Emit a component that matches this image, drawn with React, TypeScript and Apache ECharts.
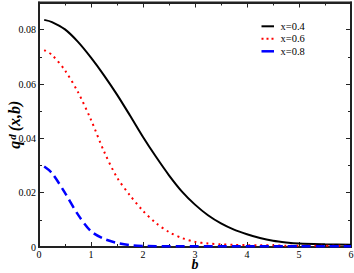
import React, { useEffect, useRef } from "react";
import * as echarts from "echarts";

const bValues = [0.1, 0.25, 0.5, 0.75, 1.0, 1.25, 1.5, 1.75, 2.0, 2.25, 2.5, 2.75, 3.0, 3.25, 3.5, 3.75, 4.0, 4.25, 4.5, 4.75, 5.0, 5.5, 6.0];
const seriesNames = ["x=0.4", "x=0.6", "x=0.8"];
const q04 = [0.0836, 0.0828, 0.0801, 0.0755, 0.0697, 0.0632, 0.0561, 0.0484, 0.0405, 0.0332, 0.0264, 0.0204, 0.0156, 0.0117, 0.0087, 0.0064, 0.0047, 0.0033, 0.0023, 0.0017, 0.0013, 0.001, 0.0008];
const q06 = [0.0725, 0.0707, 0.065, 0.057, 0.0468, 0.0352, 0.0256, 0.019, 0.0133, 0.0088, 0.0055, 0.0033, 0.0019, 0.0013, 0.001, 0.0008, 0.0007, 0.0006, 0.0006, 0.0005, 0.0005, 0.0005, 0.0004];
const q08 = [0.0296, 0.0272, 0.0199, 0.0119, 0.0058, 0.003, 0.0015, 0.0007, 0.0004, 0.0003, 0.0003, 0.0003, 0.0003, 0.0003, 0.0003, 0.0003, 0.0003, 0.0003, 0.0003, 0.0003, 0.0003, 0.0003, 0.0003];
const xTicks = { min: 0, max: 6, interval: 1 };
const yTicks = { min: 0, max: 0.09, interval: 0.02 };

const FONT = "Liberation Serif";
const colors = ["#000000", "#ff0000", "#0000ff"];
const widths = [2, 2, 2.5];
const dashes: (number[] | null)[] = [null, [2, 4], [9, 5]];

export default function App() {
  const ref = useRef<HTMLDivElement>(null);
  useEffect(() => {
    if (!ref.current) return;
    const chart = echarts.init(ref.current, null, { renderer: "svg" });
    const axisLine = { show: true, onZero: false, lineStyle: { color: "#222", width: 2 } };
    const axisTick = { show: true, inside: true, length: 5, lineStyle: { color: "#222", width: 1 } };
    const minorTick = { show: true, splitNumber: 2, length: 3, lineStyle: { color: "#222", width: 1 } };
    const mk = (vals: number[]) => bValues.map((b, i) => [b, vals[i]]);
    const allVals = [q04, q06, q08];

    const legendGraphics: any[] = [];
    seriesNames.forEach((name, i) => {
      const cy = 26.3 + i * 12.5;
      legendGraphics.push({
        type: "line",
        shape: { x1: 261.5, y1: cy, x2: 274, y2: cy },
        style: { stroke: colors[i], lineWidth: widths[i], lineDash: i === 1 ? [2, 3] : null },
        silent: true,
      });
      legendGraphics.push({
        type: "text",
        x: 280.5,
        y: cy,
        style: { text: name, fontFamily: FONT, fontSize: 10.5, fill: "#000", verticalAlign: "middle" },
        silent: true,
      });
    });

    chart.setOption({
      animation: false,
      backgroundColor: "#fff",
      grid: {
        left: 39, right: 3, top: 2.5, bottom: 26,
        containLabel: false,
        outerBoundsMode: "none",
        show: true, borderColor: "#222", borderWidth: 2, backgroundColor: "transparent",
      },
      graphic: legendGraphics,
      xAxis: [
        {
          type: "value",
          ...xTicks,
          name: "b",
          nameLocation: "middle",
          nameGap: 10,
          nameMoveOverlap: false,
          nameTextStyle: { fontFamily: FONT, fontSize: 14, fontWeight: "bold", fontStyle: "italic", color: "#000" },
          axisLine,
          axisTick,
          minorTick,
          splitLine: { show: false },
          axisLabel: { fontFamily: FONT, fontSize: 10, color: "#000", margin: 2 },
        },
        {
          type: "value",
          position: "top",
          ...xTicks,
          axisLine,
          axisTick,
          minorTick,
          splitLine: { show: false },
          axisLabel: { show: false },
        },
      ],
      yAxis: [
        {
          type: "value",
          ...yTicks,
          name: "{a|q}{s|d}{a|(x,b)}",
          nameLocation: "middle",
          nameRotate: 90,
          nameGap: 17,
          nameMoveOverlap: false,
          nameTextStyle: {
            rich: {
              a: { fontFamily: FONT, fontSize: 16, fontWeight: "bold", fontStyle: "italic", color: "#000" },
              s: { fontFamily: FONT, fontSize: 11, fontWeight: "bold", fontStyle: "italic", color: "#000", verticalAlign: "top", padding: [0, 3, 0, 1] },
            },
          },
          axisLine,
          axisTick,
          minorTick,
          splitLine: { show: false },
          axisLabel: { fontFamily: FONT, fontSize: 10, color: "#000", margin: 3, showMaxLabel: false },
        },
        {
          type: "value",
          position: "right",
          ...yTicks,
          axisLine,
          axisTick,
          minorTick,
          splitLine: { show: false },
          axisLabel: { show: false },
        },
      ],
      series: seriesNames.map((name, i) => ({
        name,
        type: "line",
        data: mk(allVals[i]),
        symbol: "none",
        smooth: 0.3,
        lineStyle: { color: colors[i], width: widths[i], type: dashes[i] ?? "solid" },
        itemStyle: { color: colors[i] },
      })),
    });
    return () => chart.dispose();
  }, []);
  return (
    <div
      ref={ref}
      style={{ position: "fixed", left: 0, top: 0, width: 354, height: 273, background: "#fff" }}
    />
  );
}
